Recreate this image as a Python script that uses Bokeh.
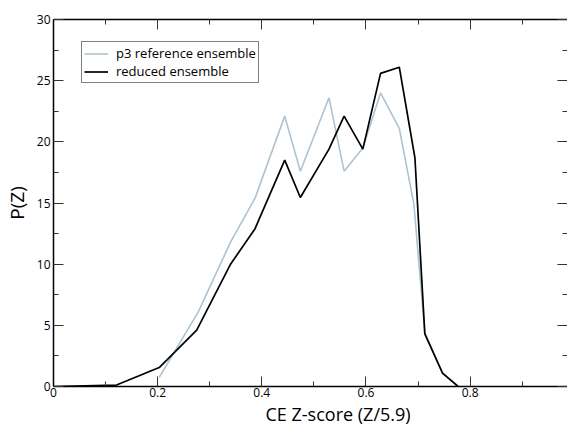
from bokeh.plotting import figure
from bokeh.models import (LinearAxis, FixedTicker, CustomJSTickFormatter, Legend, LegendItem, Range1d, Title)
from bokeh.embed import file_html
from bokeh.resources import INLINE

# --- data ---
z_ref = [0.203, 0.278, 0.34, 0.387, 0.444, 0.474, 0.529, 0.558, 0.594, 0.628, 0.664, 0.692, 0.713, 0.747, 0.777]
p_ref = [0.74, 6.1, 11.8, 15.4, 22.1, 17.6, 23.6, 17.6, 19.5, 24.0, 21.1, 14.9, 4.4, 1.1, 0.0]

z_red = [0.0, 0.121, 0.203, 0.275, 0.34, 0.387, 0.444, 0.474, 0.529, 0.558, 0.594, 0.628, 0.664, 0.694, 0.713, 0.747, 0.777]
p_red = [0.0, 0.12, 1.55, 4.6, 10.0, 12.9, 18.5, 15.45, 19.4, 22.1, 19.4, 25.6, 26.1, 18.7, 4.3, 1.1, 0.0]

x_major = [0, 0.2, 0.4, 0.6, 0.8, 1.0]
x_minor = [0.1, 0.3, 0.5, 0.7, 0.9]
y_major = [0, 5, 10, 15, 20, 25, 30]
y_minor = [2.5, 7.5, 12.5, 17.5, 22.5, 27.5]
x_title = "CE Z-score (Z/5.9)"
y_title = "P(Z)"

FONT = "Open Sans"

p = figure(width=567, height=425, output_backend="svg", toolbar_location=None,
           x_range=Range1d(0, 0.987), y_range=Range1d(0, 30),
           min_border_left=45, min_border_right=0, min_border_top=19, min_border_bottom=38,
           y_axis_label=y_title)
p.outline_line_color = None
p.grid.visible = False
p.background_fill_color = "white"
p.border_fill_color = "white"

r_ref = p.line(z_ref, p_ref, line_color="#adc3cf", line_width=1.6)
r_red = p.line(z_red, p_red, line_color="black", line_width=1.7)

xt = FixedTicker(ticks=x_major, minor_ticks=x_minor)
yt = FixedTicker(ticks=y_major, minor_ticks=y_minor)
fmt_x = CustomJSTickFormatter(code="return String(Math.round(tick*10)/10);")
blank = CustomJSTickFormatter(code="return '';")

def style(ax):
    ax.major_tick_in = 10
    ax.major_tick_out = 0
    ax.minor_tick_in = 5
    ax.minor_tick_out = 0
    ax.axis_line_color = "black"
    ax.axis_line_width = 1.5
    ax.major_tick_line_color = "#333333"
    ax.minor_tick_line_color = "#333333"
    ax.major_label_text_font = FONT
    ax.major_label_text_font_size = "12px"
    ax.major_label_text_color = "black"
    ax.axis_label_text_font = FONT
    ax.axis_label_text_font_size = "19px"
    ax.axis_label_text_font_style = "normal"
    ax.axis_label_text_color = "black"

xa = p.xaxis[0]
xa.ticker = xt
xa.formatter = fmt_x
style(xa)
xa.major_label_standoff = 1

ya = p.yaxis[0]
ya.ticker = yt
style(ya)
ya.major_label_standoff = 3
ya.axis_label_standoff = 4

top = LinearAxis(ticker=FixedTicker(ticks=x_major, minor_ticks=x_minor), formatter=blank)
style(top)
top.major_label_text_font_size = "1px"
top.major_label_standoff = 0
p.add_layout(top, "above")

right = LinearAxis(ticker=FixedTicker(ticks=y_major, minor_ticks=y_minor), formatter=blank)
style(right)
right.axis_line_color = None
right.major_label_text_font_size = "1px"
right.major_label_standoff = 0
p.add_layout(right, "right")

xlab = Title(text=x_title, align="left", offset=212, standoff=0,
             text_font=FONT, text_font_size="18px", text_font_style="normal",
             text_color="black")
p.add_layout(xlab, "below")

legend = Legend(items=[LegendItem(label="p3 reference ensemble", renderers=[r_ref]),
                       LegendItem(label="reduced ensemble", renderers=[r_red])],
                location=(28, 303))
legend.border_line_color = "black"
legend.border_line_width = 1
legend.background_fill_color = "white"
legend.background_fill_alpha = 1
legend.padding = 2
legend.margin = 0
legend.spacing = 0
legend.label_height = 17
legend.glyph_height = 17
legend.glyph_width = 24
legend.label_standoff = 8
legend.label_text_font = FONT
legend.label_text_font_size = "13px"
legend.label_text_color = "black"
p.add_layout(legend, "center")

open("out.html", "w").write(file_html(p, INLINE))
